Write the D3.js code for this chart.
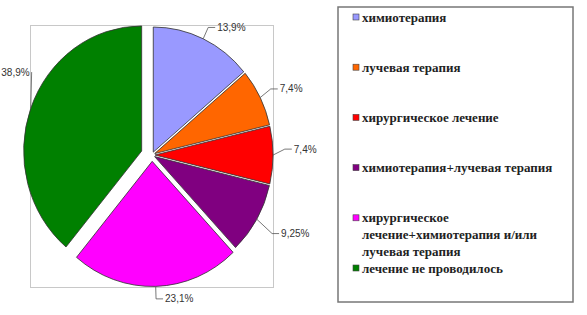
<!DOCTYPE html>
<html>
<head>
<meta charset="utf-8">
<script src="https://cdn.jsdelivr.net/npm/d3@7"></script>
<style>
  body { margin: 0; background: #fff; }
  svg { display: block; }
</style>
</head>
<body>
<div class="graph"></div>
<script>
// chart data
var categories = [
  "химиотерапия",
  "лучевая терапия",
  "хирургическое лечение",
  "химиотерапия+лучевая терапия",
  "хирургическое\nлечение+химиотерапия и/или\nлучевая терапия",
  "лечение не проводилось"
];
var values = [13.9, 7.4, 7.4, 9.25, 23.1, 38.9];
var valueLabels = ["13,9%", "7,4%", "7,4%", "9,25%", "23,1%", "38,9%"];
var colors = ["#9999FF", "#FF6600", "#FF0000", "#800080", "#FF00FF", "#008000"];

// how far each slice is pulled out, and label nudges
var explode = [3, 3, 3, 3, 6, 11];
var labelShift = [[0, 0], [0, -3], [0, -6], [0, 5], [0, 0], [12, -32]];

var width = 587, height = 315;
var r = 118, sy = 1.06;

var svg = d3.select(".graph").append("svg")
    .attr("width", width)
    .attr("height", height);

// plot area frame
svg.append("rect")
    .attr("x", 30.5).attr("y", 25.5)
    .attr("width", 243).attr("height", 262)
    .attr("fill", "none")
    .attr("stroke", "#c8c8c8");

var pie = d3.pie().sort(null).value(function(d) { return d; });
var arc = d3.arc().innerRadius(0).outerRadius(r);
var arcs = pie(values);

var g = svg.append("g")
    .attr("transform", "translate(152,155) scale(1," + sy + ")");

function offset(d, i, k) {
  var a = (d.startAngle + d.endAngle) / 2;
  return [Math.sin(a) * k, -Math.cos(a) * k];
}

g.selectAll("path.slice")
    .data(arcs)
  .enter().append("path")
    .attr("class", "slice")
    .attr("transform", function(d, i) {
      var o = offset(d, i, explode[i]);
      return "translate(" + o[0] + "," + o[1] + ")";
    })
    .attr("d", arc)
    .attr("fill", function(d, i) { return colors[i]; })
    .attr("stroke", "#333")
    .attr("stroke-width", 0.8);

// leader lines and value labels (in screen coords)
var cx = 152, cy = 155;
var labels = svg.append("g");
arcs.forEach(function(d, i) {
  var a = (d.startAngle + d.endAngle) / 2;
  var o = offset(d, i, explode[i]);
  var px = cx + o[0] + Math.sin(a) * r,
      py = cy + (o[1] - Math.cos(a) * r) * sy;
  var k = i === 3 ? 1.15 : 1.1;
  var ex = cx + o[0] + Math.sin(a) * r * k + labelShift[i][0],
      ey = cy + (o[1] - Math.cos(a) * r * k) * sy + labelShift[i][1];
  var right = Math.sin(a) >= 0;
  var hx = i === 5 ? ex : ex + (right ? 7 : -7);
  labels.append("polyline")
      .attr("points", [[px, py], [ex, ey], [hx, ey]].join(" "))
      .attr("fill", "none")
      .attr("stroke", "#555")
      .attr("stroke-width", 0.8);
  labels.append("text")
      .attr("x", right ? hx + 2 : hx - 2)
      .attr("y", ey)
      .attr("dy", "0.35em")
      .attr("text-anchor", right ? "start" : "end")
      .attr("font-family", "Liberation Sans, Arial, sans-serif")
      .attr("font-size", 10)
      .attr("fill", "#333")
      .text(valueLabels[i]);
});

// legend
svg.append("rect")
    .attr("x", 338).attr("y", 7)
    .attr("width", 235).attr("height", 295)
    .attr("fill", "#fff")
    .attr("stroke", "#777")
    .attr("stroke-width", 1.5);

var ly = d3.scaleLinear().domain([0, 5]).range([17, 268]);
var legend = svg.selectAll("g.legend")
    .data(categories)
  .enter().append("g")
    .attr("class", "legend")
    .attr("transform", function(d, i) { return "translate(353," + ly(i) + ")"; });

legend.append("rect")
    .attr("x", 0).attr("y", -3)
    .attr("width", 6).attr("height", 6)
    .attr("fill", function(d, i) { return colors[i]; })
    .attr("stroke", "#444")
    .attr("stroke-width", 0.6);

legend.append("text")
    .attr("font-family", "Liberation Serif, Times New Roman, serif")
    .attr("font-weight", "bold")
    .attr("font-size", 13)
    .attr("fill", "#222")
    .each(function(d) {
      var t = d3.select(this);
      d.split("\n").forEach(function(line, j) {
        t.append("tspan")
            .attr("x", 9)
            .attr("y", j * 17)
            .attr("dy", "0.35em")
            .text(line);
      });
    });
</script>
</body>
</html>
